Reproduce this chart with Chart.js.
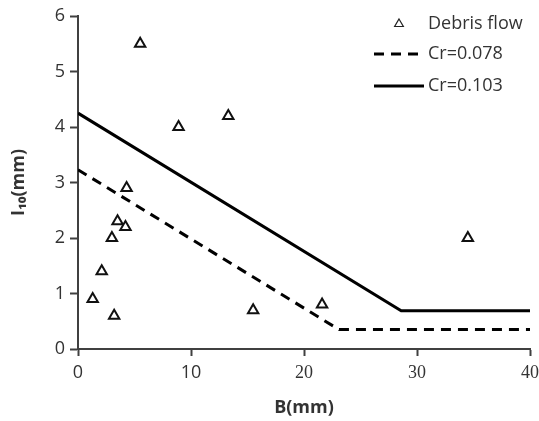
<!DOCTYPE html>
<html>
<head>
<meta charset="utf-8">
<script src="https://cdn.jsdelivr.net/npm/chart.js@4.4.0/dist/chart.umd.min.js"></script>
<style>
  html, body { margin: 0; padding: 0; background: #fff; }
  #wrap { width: 539px; height: 421px; }
</style>
</head>
<body>
<div id="wrap"><canvas id="chart" width="539" height="421"></canvas></div>
<script>
// Observed debris flow events
const debrisB = [5.5, 8.9, 13.3, 4.3, 3.5, 4.2, 3.0, 2.1, 1.3, 3.2, 15.5, 21.6, 34.5];
const debrisI = [5.5, 4.0, 4.2, 2.9, 2.3, 2.2, 2.0, 1.4, 0.9, 0.6, 0.7, 0.8, 2.0];

// Threshold lines
const cr078B = [0, 23.1, 40];
const cr078I = [3.23, 0.35, 0.35];
const cr103B = [0, 28.6, 40];
const cr103I = [4.25, 0.69, 0.69];

const xTicks = [0, 10, 20, 30, 40];
const yTicks = [0, 1, 2, 3, 4, 5, 6];

const toPoints = (xs, ys) => xs.map((x, i) => ({ x: x, y: ys[i] }));

const textColor = '#333';
const axisColor = '#404040';
const sans = 'Open Sans';

// legend drawn inside the plot, top right
const insideLegend = {
  id: 'insideLegend',
  afterDraw(chart) {
    const ctx = chart.ctx;
    const sets = chart.data.datasets;
    const rows = [24, 54, 86];
    ctx.save();
    ctx.font = '18px "' + sans + '"';
    ctx.fillStyle = textColor;
    ctx.textBaseline = 'middle';
    sets.forEach((ds, i) => {
      const y = rows[i];
      if (ds.showLine) {
        ctx.beginPath();
        ctx.strokeStyle = '#000';
        ctx.lineWidth = 3;
        ctx.setLineDash(ds.borderDash || []);
        ctx.moveTo(374, y);
        ctx.lineTo(424, y);
        ctx.stroke();
        ctx.setLineDash([]);
      } else {
        ctx.beginPath();
        ctx.strokeStyle = '#222';
        ctx.lineWidth = 1.2;
        const r = 5;
        ctx.moveTo(399, y - r);
        ctx.lineTo(399 + r * 0.87, y + r * 0.5);
        ctx.lineTo(399 - r * 0.87, y + r * 0.5);
        ctx.closePath();
        ctx.stroke();
      }
      ctx.fillStyle = textColor;
      ctx.fillText(ds.label, 428, y);
    });
    ctx.restore();
  }
};

new Chart(document.getElementById('chart'), {
  type: 'scatter',
  data: {
    datasets: [
      {
        label: 'Debris flow',
        data: toPoints(debrisB, debrisI),
        pointStyle: 'triangle',
        pointRadius: 6,
        pointBorderWidth: 2,
        pointBorderColor: '#111',
        pointBackgroundColor: '#fff',
        showLine: false
      },
      {
        label: 'Cr=0.078',
        data: toPoints(cr078B, cr078I),
        showLine: true,
        borderColor: '#000',
        borderWidth: 3,
        borderDash: [10, 7],
        pointRadius: 0,
        tension: 0
      },
      {
        label: 'Cr=0.103',
        data: toPoints(cr103B, cr103I),
        showLine: true,
        borderColor: '#000',
        borderWidth: 3,
        pointRadius: 0,
        tension: 0
      }
    ]
  },
  options: {
    responsive: false,
    animation: false,
    layout: { padding: { left: 0, right: 0, top: 16, bottom: 0 } },
    plugins: {
      legend: { display: false },
      tooltip: { enabled: false }
    },
    scales: {
      x: {
        type: 'linear',
        min: xTicks[0],
        max: xTicks[xTicks.length - 1],
        afterBuildTicks: (s) => { s.ticks = xTicks.map(v => ({ value: v })); },
        afterFit: (s) => { s.height = 72; s.paddingLeft = 0; s.paddingRight = 9; },
        border: { color: axisColor, width: 2 },
        grid: { drawOnChartArea: false, color: axisColor, tickLength: 7, tickWidth: 2 },
        ticks: {
          color: textColor,
          padding: 6,
          maxRotation: 0,
          font: (c) => ({
            family: c.tick && c.tick.value >= 20 ? '"Liberation Serif", serif' : sans,
            size: 18
          })
        },
        title: {
          display: true,
          text: 'B(mm)',
          color: textColor,
          font: { family: sans, size: 18, weight: 'bold' },
          padding: { top: 0, bottom: 2 }
        }
      },
      y: {
        type: 'linear',
        min: yTicks[0],
        max: yTicks[yTicks.length - 1],
        afterBuildTicks: (s) => { s.ticks = yTicks.map(v => ({ value: v })); },
        afterFit: (s) => { s.width = 78; },
        border: { color: axisColor, width: 2 },
        grid: { drawOnChartArea: false, color: axisColor, tickLength: 8, tickWidth: 2 },
        ticks: {
          color: textColor,
          padding: 5,
          font: { family: sans, size: 18 }
        },
        title: {
          display: true,
          text: 'I₁₀(mm)',
          color: textColor,
          font: { family: sans, size: 18, weight: 'bold' },
          padding: { top: 8, bottom: 0 }
        }
      }
    }
  },
  plugins: [insideLegend]
});
</script>
</body>
</html>
